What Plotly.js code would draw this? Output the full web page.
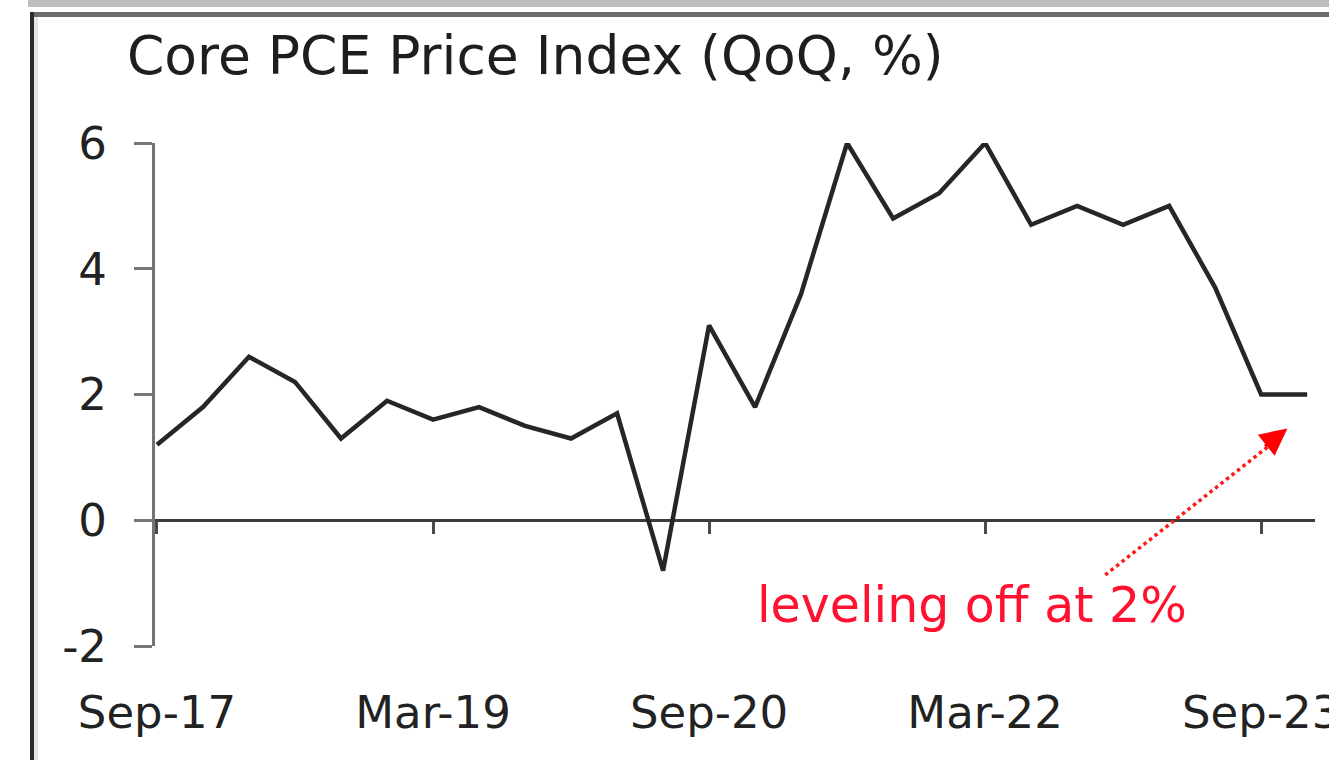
<!DOCTYPE html>
<html>
<head>
<meta charset="utf-8">
<script src="https://cdn.plot.ly/plotly-3.0.1.min.js"></script>
<style>html,body{margin:0;padding:0;background:#fff;}#chart{width:1329px;height:760px;}</style>
</head>
<body>
<div id="chart"></div>
<script>
// Quarter-end labels
const quarters = ["Sep-17","Dec-17","Mar-18","Jun-18","Sep-18","Dec-18","Mar-19","Jun-19","Sep-19","Dec-19",
  "Mar-20","Jun-20","Sep-20","Dec-20","Mar-21","Jun-21","Sep-21","Dec-21","Mar-22","Jun-22",
  "Sep-22","Dec-22","Mar-23","Jun-23","Sep-23","Dec-23"];
// Core PCE QoQ (%)
const corePCE = [1.2,1.8,2.6,2.2,1.3,1.9,1.6,1.8,1.5,1.3,
  1.7,-0.8,3.1,1.8,3.6,6.0,4.8,5.2,6.0,4.7,
  5.0,4.7,5.0,3.7,2.0,2.0];
const xTickLabels = ["Sep-17","Mar-19","Sep-20","Mar-22","Sep-23"];
const yTickVals = [-2,0,2,4,6];
const yTickText = ["-2","0","2","4","6"];
const titleText = "Core PCE Price Index (QoQ, %)";
const noteText = "leveling off at 2%";

const FONT = "DejaVu Sans";
const xRange = [-0.043, 25.17];

const traces = [
  {x: quarters, y: corePCE, type: "scatter", mode: "lines", xaxis: "x", yaxis: "y",
   line: {color: "#262626", width: 4.5}, hoverinfo: "x+y", showlegend: false},
  {x: quarters, y: corePCE, type: "scatter", mode: "lines", xaxis: "x2", yaxis: "y",
   line: {color: "rgba(0,0,0,0)", width: 0}, hoverinfo: "skip", showlegend: false}
];

// paper coordinate helpers for frame decoration (plot area: x 155..1315, y 143..646)
const px = v => (v - 155) / 1160;
const py = v => (646 - v) / 503;

const layout = {
  width: 1329, height: 760,
  margin: {l: 155, r: 14, t: 143, b: 114},
  paper_bgcolor: "#ffffff", plot_bgcolor: "#ffffff",
  showlegend: false,
  title: {text: titleText, font: {family: FONT, size: 53.5, color: "#1e1e1e"},
          x: 127/1329, xanchor: "left", xref: "container",
          y: 1 - 55/760, yanchor: "middle", yref: "container"},
  xaxis: {type: "category", categoryorder: "array", categoryarray: quarters,
          range: xRange, tickmode: "array", tickvals: xTickLabels, ticktext: xTickLabels,
          ticks: "", showline: false, showgrid: false, zeroline: false,
          tickfont: {family: FONT, size: 45, color: "#222"},
          ticklabelstandoff: 36, ticklabeloverflow: "allow", automargin: false,
          fixedrange: true},
  xaxis2: {type: "category", categoryorder: "array", categoryarray: quarters,
           overlaying: "x", anchor: "free", position: 0.25, side: "bottom",
           range: xRange, tickmode: "array", tickvals: xTickLabels,
           ticks: "outside", ticklen: 13, tickwidth: 3, tickcolor: "#4a4a4a",
           showticklabels: false, showline: false, showgrid: false, zeroline: false,
           automargin: false, fixedrange: true},
  yaxis: {range: [-2, 6], tickmode: "array", tickvals: yTickVals, ticktext: yTickText,
          ticks: "outside", ticklen: 18, tickwidth: 3, tickcolor: "#787878",
          showline: true, linecolor: "#747474", linewidth: 3,
          showgrid: false, zeroline: true, zerolinecolor: "#3c3c3c", zerolinewidth: 3.5,
          tickfont: {family: FONT, size: 45, color: "#222"},
          ticklabelstandoff: 18, automargin: false, fixedrange: true},
  shapes: [
    {type: "rect", xref: "paper", yref: "paper", x0: px(28), x1: px(1329), y0: py(0), y1: py(7),
     fillcolor: "#bdbdbd", line: {width: 0}, layer: "below"},
    {type: "rect", xref: "paper", yref: "paper", x0: px(30), x1: px(1329), y0: py(12), y1: py(17),
     fillcolor: "#6b6b6b", line: {width: 0}, layer: "below"},
    {type: "rect", xref: "paper", yref: "paper", x0: px(34), x1: px(38), y0: py(17), y1: py(760),
     fillcolor: "#e4e4e4", line: {width: 0}, layer: "below"},
    {type: "rect", xref: "paper", yref: "paper", x0: px(30), x1: px(34), y0: py(12), y1: py(760),
     fillcolor: "#2b2b2b", line: {width: 0}, layer: "below"},
    {type: "line", xref: "x", yref: "y", x0: 20.61, y0: -0.87, x1: 24.2, y1: 1.2,
     line: {color: "#ff1a1a", width: 3.5, dash: "dot"}}
  ],
  annotations: [
    {x: 24.57, y: 1.46, xref: "x", yref: "y", ax: -24, ay: 19, text: "",
     showarrow: true, arrowhead: 2, arrowsize: 1.8, arrowwidth: 3, arrowcolor: "#ff0000"},
    {x: 17.72, y: -1.35, xref: "x", yref: "y", text: noteText, showarrow: false,
     xanchor: "center", yanchor: "middle",
     font: {family: FONT, size: 49, color: "#ff1230"}}
  ]
};

Plotly.newPlot("chart", traces, layout, {displayModeBar: false, staticPlot: true});
</script>
</body>
</html>
